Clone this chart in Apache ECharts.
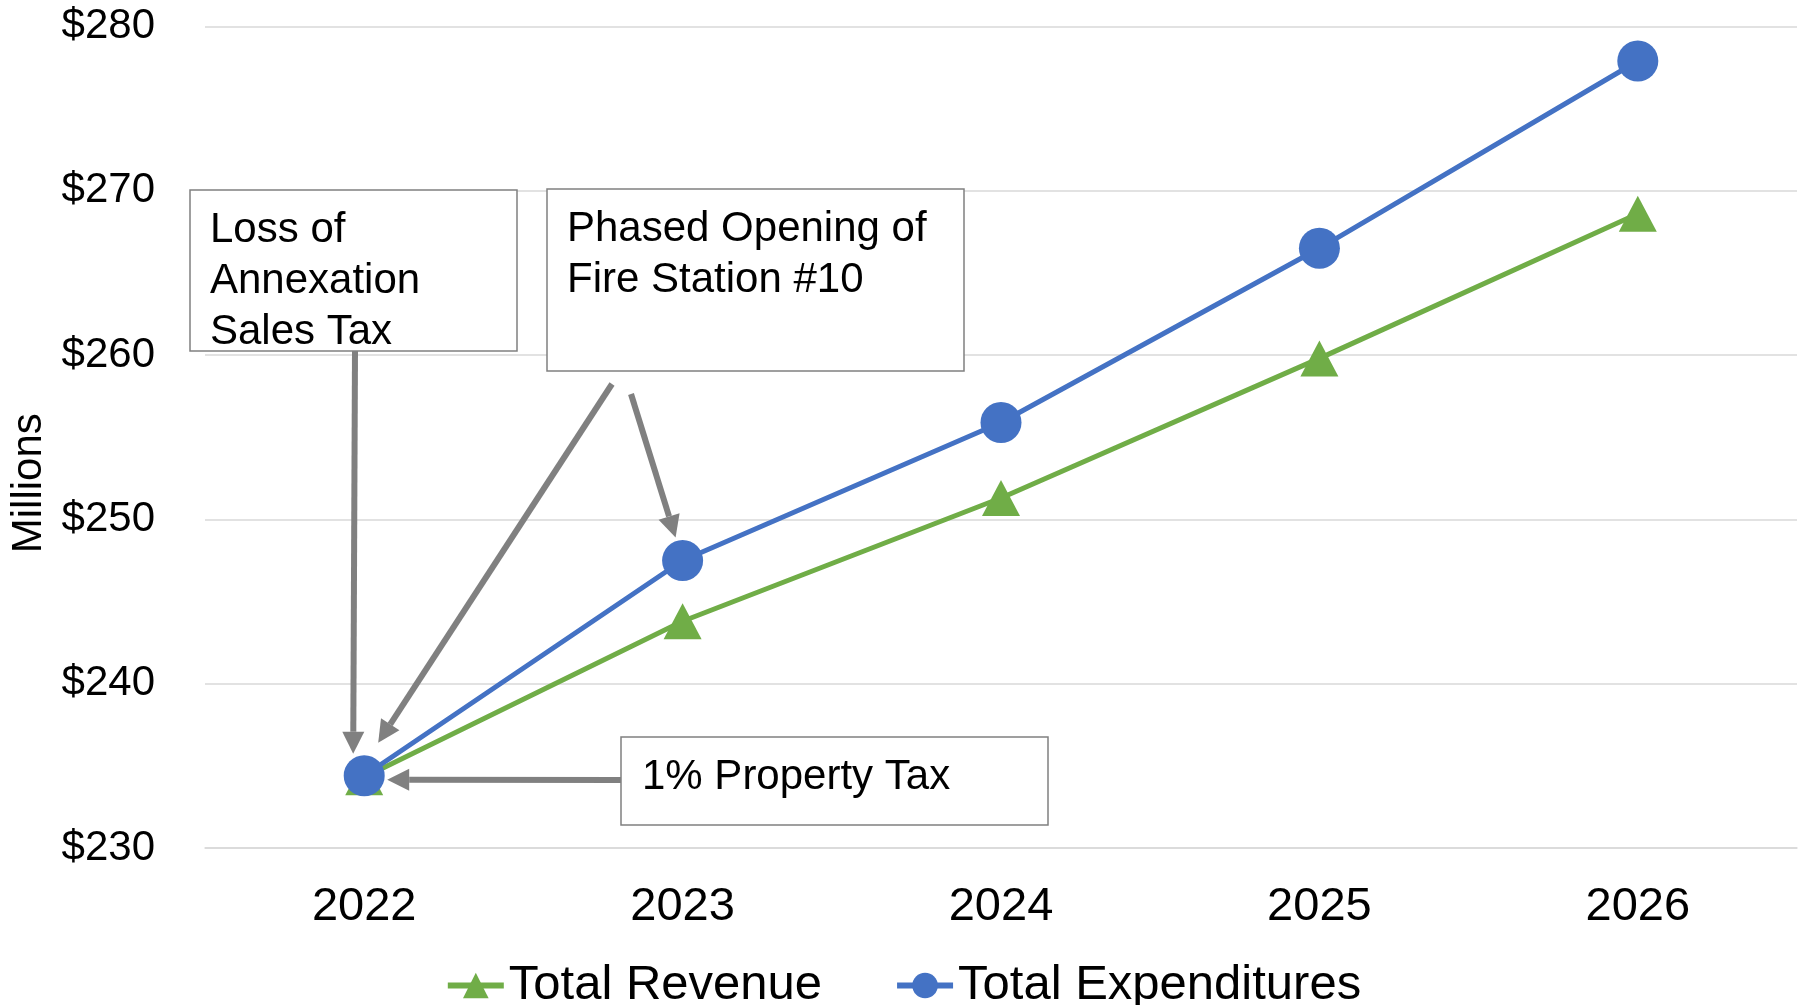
<!DOCTYPE html>
<html>
<head>
<meta charset="utf-8">
<script src="https://cdn.jsdelivr.net/npm/echarts@6/dist/echarts.min.js"></script>
<style>
  html, body { margin: 0; padding: 0; background: #fff; }
  #main { width: 1806px; height: 1005px; }
</style>
</head>
<body>
<div id="main"></div>
<script>
// data ($ millions)
const years = ['2022', '2023', '2024', '2025', '2026'];
const totalRevenue = [234.3, 243.8, 251.3, 259.8, 268.6];
const totalExpenditures = [234.4, 247.5, 255.9, 266.5, 277.9];
const yTicks = { min: 230, max: 280, interval: 10 };

const FONT = '"Liberation Sans", Arial, sans-serif';
const GRAY = '#808080';

const chart = echarts.init(document.getElementById('main'), null, { renderer: 'canvas' });

chart.setOption({
  animation: false,
  backgroundColor: '#fff',
  textStyle: { fontFamily: FONT, color: '#000' },
  grid: { left: 205, right: 9, top: 26.5, bottom: 157, containLabel: false, outerBoundsMode: 'none' },
  legend: {
    left: 'center',
    top: 956,
    itemWidth: 56,
    itemHeight: 32,
    itemGap: 72,
    lineStyle: { width: 6 },
    textStyle: { fontSize: 49, color: '#000', fontFamily: FONT },
    data: ['Total Revenue', 'Total Expenditures'],
  },
  xAxis: {
    type: 'category',
    data: years,
    boundaryGap: true,
    axisLine: { show: true, lineStyle: { color: '#d9d9d9', width: 1.5 } },
    axisTick: { show: false },
    axisLabel: { fontSize: 47, color: '#000', margin: 36, fontFamily: FONT },
  },
  yAxis: {
    type: 'value',
    min: yTicks.min,
    max: yTicks.max,
    interval: yTicks.interval,
    name: 'Millions',
    nameLocation: 'middle',
    nameRotate: 90,
    nameGap: 153,
    // nudges the title down a little below the axis middle, as in the original
    nameTextStyle: { fontSize: 42, color: '#000', fontFamily: FONT, padding: [0, 92, 0, 0] },
    axisLine: { show: false },
    axisTick: { show: false },
    splitLine: { lineStyle: { color: '#d9d9d9', width: 1.5 } },
    axisLabel: { fontSize: 42, color: '#000', margin: 50, fontFamily: FONT, formatter: (v) => '$' + v },
  },
  series: [
    {
      name: 'Total Revenue',
      type: 'line',
      data: totalRevenue,
      symbol: 'triangle',
      symbolSize: [38, 36],
      showAllSymbol: true,
      itemStyle: { color: '#70ad47' },
      lineStyle: { color: '#70ad47', width: 5 },
      z: 2,
    },
    {
      name: 'Total Expenditures',
      type: 'line',
      data: totalExpenditures,
      symbol: 'circle',
      symbolSize: 41,
      showAllSymbol: true,
      itemStyle: { color: '#4472c4' },
      lineStyle: { color: '#4472c4', width: 5 },
      z: 3,
    },
  ],
});

// callout boxes + arrows, arrow tips anchored to the data points
function arrow(x1, y1, x2, y2) {
  const L = 22, W = 22;
  const dx = x2 - x1, dy = y2 - y1;
  const len = Math.hypot(dx, dy);
  const ux = dx / len, uy = dy / len;
  const bx = x2 - ux * L, by = y2 - uy * L;
  const px = -uy * W / 2, py = ux * W / 2;
  return [
    { type: 'line', z: 100, shape: { x1, y1, x2: bx, y2: by }, style: { stroke: GRAY, lineWidth: 6 } },
    { type: 'polygon', z: 100, shape: { points: [[x2, y2], [bx + px, by + py], [bx - px, by - py]] }, style: { fill: GRAY } },
  ];
}

function box(x, y, w, h, text, tx, ty) {
  return [
    { type: 'rect', z: 100, shape: { x, y, width: w, height: h }, style: { fill: '#fff', stroke: GRAY, lineWidth: 1.5 } },
    { type: 'text', z: 101, style: { x: tx, y: ty, text, font: '42px ' + FONT, fill: '#000', lineHeight: 51, verticalAlign: 'top' } },
  ];
}

const p22 = chart.convertToPixel({ seriesIndex: 1 }, [0, totalExpenditures[0]]);
const p23 = chart.convertToPixel({ seriesIndex: 1 }, [1, totalExpenditures[1]]);

chart.setOption({
  graphic: [
    ...box(190, 190, 327, 161, 'Loss of\nAnnexation\nSales Tax', 210, 205),
    ...box(547, 189, 417, 182, 'Phased Opening of\nFire Station #10', 567, 204),
    ...box(621, 737, 427, 88, '1% Property Tax', 642, 752),
    ...arrow(355, 351, p22[0] - 11, p22[1] - 22),
    ...arrow(612, 384, p22[0] + 14, p22[1] - 33),
    ...arrow(631, 394, p23[0] - 7, p23[1] - 23),
    ...arrow(621, 780, p22[0] + 23, p22[1] + 4),
  ],
});
</script>
</body>
</html>
